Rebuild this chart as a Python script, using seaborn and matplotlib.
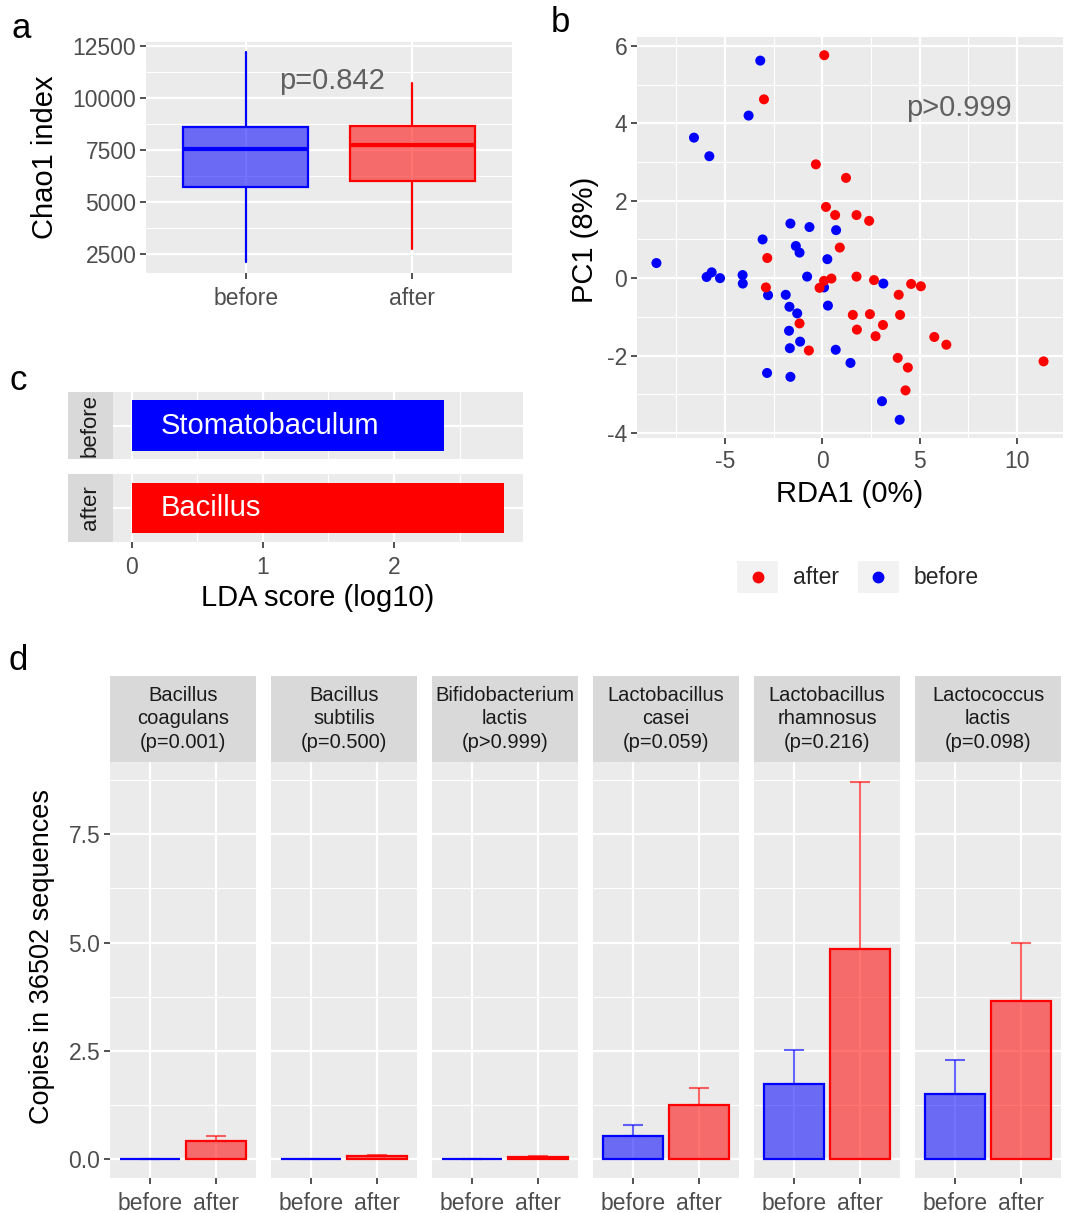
import matplotlib as mpl
mpl.use("Agg")
import matplotlib.pyplot as plt
import seaborn as sns
import numpy as np
import pandas as pd
from matplotlib.legend_handler import HandlerBase
from matplotlib.patches import Rectangle
from matplotlib.lines import Line2D
from matplotlib.ticker import FixedLocator
from matplotlib.colors import to_rgba

# ---------------- data ----------------
groups = ["before", "after"]

# panel a: Chao1 box statistics
chao_whislo = [2100, 2740]
chao_q1 = [5730, 6030]
chao_med = [7560, 7750]
chao_q3 = [8600, 8630]
chao_whishi = [12180, 10700]
chao_p = "p=0.842"

# panel b: ordination scores
after_rda1 = [0.10, -3.00, -0.33, 1.22, 0.19, 0.66, 1.76, 2.41, 0.90, -2.83, 1.76, 2.66,
              0.47, 0.09, -0.14, -2.90, 4.57, 5.07, 3.93, 1.57, 2.45, 4.00, -1.17, 1.78,
              3.12, 2.74, 5.76, 6.38, -0.69, 3.88, 4.40, 4.28, 11.38]
after_pc1 = [5.76, 4.62, 2.94, 2.59, 1.84, 1.63, 1.63, 1.48, 0.79, 0.52, 0.04, -0.05,
             -0.01, -0.07, -0.25, -0.24, -0.15, -0.21, -0.43, -0.95, -0.93, -0.95, -1.17, -1.33,
             -1.21, -1.50, -1.52, -1.72, -1.87, -2.06, -2.31, -2.90, -2.15]
before_rda1 = [-3.19, -3.79, -6.60, -5.81, -8.53, -5.95, -5.69, -5.26, -4.10, -4.09, -3.07, -2.79,
               -1.64, -0.66, 0.71, -1.36, -1.17, 0.26, -0.78, 0.09, 3.14, -1.88, -1.69, -1.29,
               -1.71, -1.14, -1.67, 0.69, 1.45, -2.84, -1.64, 0.29, 3.07, 3.98]
before_pc1 = [5.62, 4.20, 3.63, 3.15, 0.39, 0.03, 0.15, 0.00, 0.08, -0.14, 1.00, -0.44,
              1.41, 1.32, 1.24, 0.83, 0.66, 0.49, 0.04, -0.24, -0.14, -0.43, -0.74, -0.91,
              -1.36, -1.64, -1.81, -1.85, -2.19, -2.45, -2.55, -0.71, -3.18, -3.66]
ord_p = "p>0.999"

# panel c: LDA
lda_groups = ["before", "after"]
lda_taxa = ["Stomatobaculum", "Bacillus"]
lda_scores = [2.38, 2.84]

# panel d: probiotic species copies
species_names = ["Bacillus coagulans", "Bacillus subtilis", "Bifidobacterium lactis",
                 "Lactobacillus casei", "Lactobacillus rhamnosus", "Lactococcus lactis"]
species_p = ["p=0.001", "p=0.500", "p>0.999", "p=0.059", "p=0.216", "p=0.098"]
before_mean = [0.0, 0.0, 0.0, 0.53, 1.74, 1.51]
before_upper = [0.0, 0.0, 0.0, 0.78, 2.52, 2.29]
after_mean = [0.41, 0.07, 0.04, 1.25, 4.84, 3.64]
after_upper = [0.53, 0.10, 0.06, 1.65, 8.71, 4.98]

# ---------------- style ----------------
BLUE = "#0000FF"
RED = "#FF0000"
palette = {"before": BLUE, "after": RED}
PANEL = "#EBEBEB"
STRIP = "#D9D9D9"
FILL_ALPHA = 0.55
TICK_FS = 16.5
TITLE_FS = 21

sns.set_theme(style="darkgrid")
plt.rcParams["font.family"] = ["Liberation Sans", "DejaVu Sans"]
plt.rcParams["axes.unicode_minus"] = False

W, H = 1068, 1213
fig = plt.figure(figsize=(W / 100, H / 100), dpi=100)
fig.patch.set_facecolor("white")


def px_axes(l, t, r, b):
    return fig.add_axes([l / W, 1 - b / H, (r - l) / W, (b - t) / H])


def style_ax(ax, xminor=None, yminor=None, xgrid=True, ygrid=True):
    ax.set_facecolor(PANEL)
    for s in ax.spines.values():
        s.set_visible(False)
    ax.set_axisbelow(True)
    ax.grid(False)
    if xgrid:
        ax.xaxis.grid(True, which="major", color="white", lw=1.6)
    if ygrid:
        ax.yaxis.grid(True, which="major", color="white", lw=1.6)
    if xminor is not None:
        ax.xaxis.set_minor_locator(FixedLocator(xminor))
        ax.xaxis.grid(True, which="minor", color="white", lw=0.8)
    if yminor is not None:
        ax.yaxis.set_minor_locator(FixedLocator(yminor))
        ax.yaxis.grid(True, which="minor", color="white", lw=0.8)
    ax.tick_params(which="minor", length=0, bottom=False, left=False)
    ax.tick_params(which="major", length=4, width=1.2, color="#333333",
                   labelcolor="#4D4D4D", labelsize=TICK_FS, pad=3,
                   bottom=True, left=True)
    ax.set_xlabel("")
    ax.set_ylabel("")


# ---------------- panel a ----------------
axa = px_axes(146, 42, 512, 273)
stats = []
for i, g in enumerate(groups):
    stats.append(dict(label=g, whislo=chao_whislo[i], q1=chao_q1[i], med=chao_med[i],
                      q3=chao_q3[i], whishi=chao_whishi[i]))
bp = axa.bxp(stats, positions=[0, 1], widths=0.75, patch_artist=True,
             showfliers=False, showcaps=False)
for i, g in enumerate(groups):
    c = palette[g]
    bp["boxes"][i].set(facecolor=to_rgba(c, FILL_ALPHA), edgecolor=c, linewidth=1.6)
    bp["medians"][i].set(color=c, linewidth=3)
    for w in bp["whiskers"][2 * i:2 * i + 2]:
        w.set(color=c, linewidth=1.6)
style_ax(axa, yminor=[3750, 6250, 8750, 11250])
axa.set_xlim(-0.6, 1.6)
axa.set_ylim(1595, 12683)
axa.set_yticks([2500, 5000, 7500, 10000, 12500])
axa.set_xticks([0, 1])
axa.set_xticklabels(groups)
axa.tick_params(axis="x", pad=6)
axa.text(0.52, 10800, chao_p, fontsize=TITLE_FS, color="#606060", ha="center", va="center")
fig.text(45 / W, 1 - 157 / H, "Chao1 index", rotation=90, fontsize=TITLE_FS,
         ha="center", va="center", color="black")

# ---------------- panel b ----------------
axb = px_axes(637, 37, 1063, 438)
ord_df = pd.DataFrame({
    "RDA1": before_rda1 + after_rda1,
    "PC1": before_pc1 + after_pc1,
    "group": ["before"] * len(before_rda1) + ["after"] * len(after_rda1),
})
sns.scatterplot(data=ord_df, x="RDA1", y="PC1", hue="group", hue_order=["after", "before"],
                palette=palette, s=52, linewidth=0, alpha=1, legend=False, ax=axb)
style_ax(axb, xminor=[-7.5, -2.5, 2.5, 7.5], yminor=[-3, -1, 1, 3, 5])
axb.set_xlim(-9.53, 12.38)
axb.set_ylim(-4.13, 6.23)
axb.set_xticks([-5, 0, 5, 10])
axb.set_yticks([-4, -2, 0, 2, 4, 6])
axb.tick_params(axis="x", pad=5)
axb.text(7.0, 4.4, ord_p, fontsize=TITLE_FS, color="#606060", ha="center", va="center")
fig.text(850 / W, 1 - 494 / H, "RDA1 (0%)", fontsize=TITLE_FS, ha="center", va="center", color="black")
fig.text(585 / W, 1 - 240 / H, "PC1 (8%)", rotation=90, fontsize=TITLE_FS,
         ha="center", va="center", color="black")


class KeyHandler(HandlerBase):
    def create_artists(self, legend, orig_handle, xdescent, ydescent, width, height, fontsize, trans):
        rect = Rectangle((-xdescent, -ydescent), width, height, facecolor="#F2F2F2",
                         edgecolor="none", transform=trans)
        dot = Line2D([-xdescent + width / 2], [-ydescent + height / 2], marker="o", ms=7.5,
                     color=orig_handle.get_markerfacecolor(), ls="none", transform=trans)
        return [rect, dot]


leg_levels = ["after", "before"]
handles = [Line2D([], [], marker="o", ls="none", color=palette[g]) for g in leg_levels]
axb.legend(handles, leg_levels, handler_map={Line2D: KeyHandler()}, loc="center",
           bbox_to_anchor=(858 / W, 1 - 577 / H), bbox_transform=fig.transFigure, ncol=2,
           frameon=False, fontsize=TICK_FS, handlelength=1.8, handleheight=1.8,
           handletextpad=0.65, columnspacing=0.8, borderaxespad=0, borderpad=0)

# ---------------- panel c ----------------
facet_rows = [(392, 459), (474, 542)]
for i, g in enumerate(lda_groups):
    t, b = facet_rows[i]
    ax = px_axes(113, t, 523, b)
    sns.barplot(x=[lda_scores[i]], y=[g], orient="h", color=palette[g], saturation=1,
                width=0.9, ax=ax, linewidth=0)
    style_ax(ax, xminor=[0.5, 1.5, 2.5])
    ax.yaxis.grid(True, which="major", color="white", lw=1.6)
    ax.set_xlim(-0.142, 2.982)
    ax.set_ylim(0.6, -0.6)
    ax.set_xticks([0, 1, 2])
    ax.tick_params(axis="y", left=False, labelleft=False)
    if i == 0:
        ax.tick_params(axis="x", bottom=False, labelbottom=False)
    else:
        ax.tick_params(axis="x", pad=6)
    ax.text(0.22, 0, lda_taxa[i], color="white", fontsize=21, ha="left", va="center")
    sax = px_axes(68, t, 113, b)
    sax.set_facecolor(STRIP)
    sax.set_xticks([])
    sax.set_yticks([])
    sax.grid(False)
    for s in sax.spines.values():
        s.set_visible(False)
    sax.text(0.5, 0.5, g, rotation=90, transform=sax.transAxes, ha="center", va="center",
             fontsize=16, color="#1A1A1A")
fig.text(318 / W, 1 - 598 / H, "LDA score (log10)", fontsize=TITLE_FS, ha="center",
         va="center", color="black")

# ---------------- panel d ----------------
facet_left = [110, 271, 432, 593, 754, 915]
fw = 146
for i, name in enumerate(species_names):
    l = facet_left[i]
    ax = px_axes(l, 762, l + fw, 1178)
    dfd = pd.DataFrame({"group": groups, "copies": [before_mean[i], after_mean[i]]})
    sns.barplot(data=dfd, x="group", y="copies", hue="group", order=groups, hue_order=groups,
                palette=palette, saturation=1, width=0.9, errorbar=None, legend=False, ax=ax)
    for p in ax.patches:
        fc = p.get_facecolor()
        p.set_edgecolor(fc[:3] + (1.0,))
        p.set_facecolor(fc[:3] + (FILL_ALPHA,))
        p.set_linewidth(1.6)
        p.set_zorder(2)
    for j, (m, u) in enumerate(zip([before_mean[i], after_mean[i]], [before_upper[i], after_upper[i]])):
        c = palette[groups[j]]
        ax.errorbar([j], [m], yerr=[[0], [u - m]], fmt="none", ecolor=c, alpha=0.6,
                    elinewidth=1.5, capsize=7.2, capthick=1.5, zorder=1.5)
    style_ax(ax, yminor=[1.25, 3.75, 6.25, 8.75])
    ax.set_xlim(-0.6, 1.6)
    ax.set_ylim(-0.437, 9.17)
    ax.set_xticks([0, 1])
    ax.set_xticklabels(groups)
    ax.set_yticks([0, 2.5, 5.0, 7.5])
    ax.set_yticklabels(["0.0", "2.5", "5.0", "7.5"])
    ax.tick_params(axis="x", pad=6)
    if i > 0:
        ax.tick_params(axis="y", left=False, labelleft=False)
    sax = px_axes(l, 676, l + fw, 762)
    sax.set_facecolor(STRIP)
    sax.set_xticks([])
    sax.set_yticks([])
    sax.grid(False)
    for s in sax.spines.values():
        s.set_visible(False)
    label = name.replace(" ", "\n") + "\n(" + species_p[i] + ")"
    sax.text(0.5, 0.5, label, transform=sax.transAxes, ha="center", va="center",
             fontsize=14.5, color="#1A1A1A", linespacing=1.3)
fig.text(42 / W, 1 - 957 / H, "Copies in 36502 sequences", rotation=90, fontsize=19.5,
         ha="center", va="center", color="black")

# ---------------- panel letters ----------------
for letter, x, y in [("a", 21, 28), ("b", 560, 22), ("c", 18, 380), ("d", 18, 660)]:
    fig.text(x / W, 1 - y / H, letter, fontsize=25, ha="center", va="center", color="black")

fig.savefig("out.png", dpi=100, facecolor="white")
